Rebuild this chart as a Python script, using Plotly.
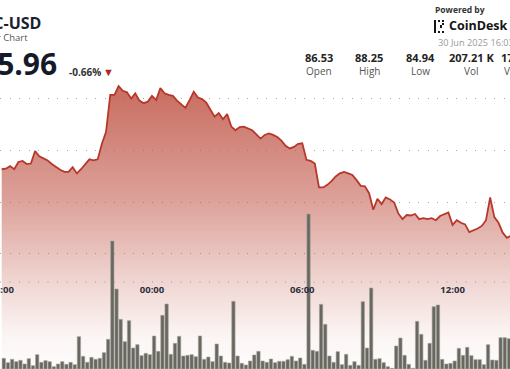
import plotly.graph_objects as go
import pandas as pd

W, H = 510, 369

# ---- data ----
start_time = "2025-06-29 18:00"
price = [
    86.63, 86.64, 86.69, 86.63, 86.77, 86.79, 86.73, 86.74, 86.98, 86.88,
    86.84, 86.80, 86.73, 86.67, 86.62, 86.58, 86.58, 86.67, 86.55, 86.63,
    86.72, 86.82, 86.80, 86.82, 87.12, 87.35, 88.06, 88.06, 88.23, 88.14,
    88.11, 87.99, 88.09, 87.95, 87.90, 87.93, 88.04, 87.96, 88.19, 88.09,
    88.06, 88.04, 87.95, 87.88, 87.81, 87.96, 88.12, 88.01, 87.98, 87.91,
    87.76, 87.64, 87.71, 87.59, 87.69, 87.45, 87.38, 87.44, 87.45, 87.42,
    87.38, 87.30, 87.22, 87.29, 87.32, 87.29, 87.25, 87.18, 87.08, 87.03,
    87.06, 87.12, 87.13, 86.81, 86.79, 86.74, 86.28, 86.28, 86.33, 86.40,
    86.49, 86.55, 86.58, 86.55, 86.52, 86.42, 86.31, 86.30, 86.17, 85.85,
    86.06, 85.96, 86.09, 86.05, 85.99, 85.78, 85.67, 85.75, 85.74, 85.77,
    85.67, 85.69, 85.67, 85.69, 85.65, 85.73, 85.77, 85.80, 85.56, 85.65,
    85.60, 85.57, 85.42, 85.45, 85.49, 85.54, 85.65, 86.09, 85.71, 85.60,
    85.41, 85.31, 85.35,
]
volume = [
    32, 19, 29, 22, 26, 15, 31, 10, 43, 20,
    25, 22, 7, 15, 22, 14, 20, 13, 97, 38,
    20, 35, 29, 32, 49, 89, 384, 240, 149, 82,
    145, 63, 73, 40, 47, 43, 99, 53, 161, 195,
    44, 77, 98, 39, 41, 43, 37, 99, 29, 36,
    22, 75, 39, 20, 18, 203, 39, 17, 12, 24,
    42, 53, 24, 20, 30, 19, 23, 23, 28, 38,
    24, 33, 14, 465, 56, 53, 194, 134, 39, 20,
    52, 13, 44, 11, 22, 11, 202, 63, 243, 29,
    31, 19, 7, 2, 69, 93, 41, 14, 2, 143,
    104, 26, 77, 187, 192, 29, 15, 17, 24, 62,
    41, 65, 40, 28, 28, 13, 73, 27, 26, 94,
    94, 91,
]
price_grid = [85, 86, 87, 88]
tick_values = ["2025-06-29 18:00", "2025-06-30 00:00", "2025-06-30 06:00", "2025-06-30 12:00"]
tick_labels = ["18:00", "00:00", "06:00", "12:00"]

symbol = "LTC-USD"
subtitle = "24 Hour Chart"
last_price = "85.96"
change = "-0.66%"
stat_values = ["86.53", "88.25", "84.94", "207.21 K", "17.82 M"]
stat_labels = ["Open", "High", "Low", "Vol", "Vol USD"]
updated = "30 Jun 2025 16:03"

price_times = pd.date_range(start_time, periods=len(price), freq="10min")
vol_times = pd.date_range(pd.Timestamp(start_time) + pd.Timedelta("5min"),
                          periods=len(volume), freq="10min")


def px(x):
    return x / W


def py(y):
    return 1 - y / H


fig = go.Figure()

fig.add_trace(go.Scatter(
    x=price_times, y=price, mode="lines",
    line=dict(color="rgb(183,55,42)", width=1.8),
    fill="tozeroy",
    fillgradient=dict(
        type="vertical", start=82.79, stop=88.25,
        colorscale=[
            [0.0, "rgba(190,80,65,0.02)"],
            [0.10, "rgba(190,80,65,0.05)"],
            [0.14, "rgba(190,80,65,0.08)"],
            [0.31, "rgba(190,80,65,0.24)"],
            [0.60, "rgba(190,80,65,0.54)"],
            [1.0, "rgba(190,80,65,0.84)"],
        ],
    ),
    hoverinfo="skip", yaxis="y",
))

fig.add_trace(go.Bar(
    x=vol_times, y=volume, yaxis="y2",
    marker=dict(color="rgb(104,104,97)",
                line=dict(color="rgb(165,163,156)", width=0.6)),
    hoverinfo="skip",
))

annotations = []


def txt(text, x, y, size, color, anchor="left", weight="normal"):
    annotations.append(dict(
        text=text, x=px(x), y=py(y), xref="paper", yref="paper",
        xanchor=anchor, yanchor="middle", showarrow=False,
        font=dict(family="Open Sans", size=size, color=color, weight=weight),
    ))


txt(symbol, 43, 23, 16, "#1b1f2e", "right", "bold")
txt(subtitle, 30, 37, 9.5, "#555555", "right")
txt(last_price, 59, 63, 30, "#151a28", "right", "bold")
txt(change, 67, 72, 10, "#333333", "left", "bold")
txt("▼", 108, 72, 11, "#b3261e", "center")
txt("Powered by", 433, 9, 8.5, "#333333", "left", "bold")
txt("CoinDesk", 447, 26, 12.5, "#151515", "left", "bold")
txt(updated, 436, 43, 9.2, "#9a9a9a", "left")
centers = [319, 369, 420, 471, 522]
for c, v, l in zip(centers, stat_values, stat_labels):
    txt(v, c, 58, 11, "#222222", "center", "bold")
    txt(l, c, 71, 10, "#555555", "center")

shapes = [
    dict(type="line", xref="paper", yref="paper", x0=0, x1=1,
         y0=py(282), y1=py(282), layer="below",
         line=dict(color="#a8a8a8", width=1, dash="1px,8.5px")),
]
# CoinDesk logo mark
for (x0, y0, x1, y1) in [(434, 20, 436, 33), (438, 20, 440, 22), (442, 20, 444, 22),
                         (438, 31, 440, 33), (442, 31, 444, 33), (440, 25, 442, 28),
                         (442, 23, 444, 25)]:
    shapes.append(dict(type="rect", xref="paper", yref="paper",
                       x0=px(x0), x1=px(x1), y0=py(y0), y1=py(y1),
                       fillcolor="#151515", line=dict(width=0)))

fig.update_layout(
    width=W, height=H,
    margin=dict(l=0, r=0, t=0, b=0, pad=0, autoexpand=False),
    paper_bgcolor="white", plot_bgcolor="white",
    showlegend=False, hovermode=False, bargap=0.2,
    annotations=annotations, shapes=shapes,
    xaxis=dict(
        type="date",
        range=["2025-06-29 17:55:56", "2025-06-30 14:17:31"],
        tickvals=tick_values, ticktext=tick_labels,
        anchor="free", position=py(282), automargin=False,
        showgrid=False, zeroline=False, showline=False, ticks="",
        ticklabeloverflow="allow",
        tickfont=dict(family="Open Sans", size=9.5, color="#2b2f3a", weight="bold"),
    ),
    yaxis=dict(
        range=[82.788, 89.885], tickvals=price_grid, automargin=False,
        showticklabels=False, showgrid=True,
        gridcolor="#a8a8a8", gridwidth=1, griddash="1px,8.5px",
        zeroline=False, showline=False,
    ),
    yaxis2=dict(
        overlaying="y", range=[0, 1107], visible=False, automargin=False,
    ),
)

fig.write_html(
    "out.html",
    config={"displayModeBar": False},
    post_script="document.body.style.margin='0';document.body.style.padding='0';",
)
